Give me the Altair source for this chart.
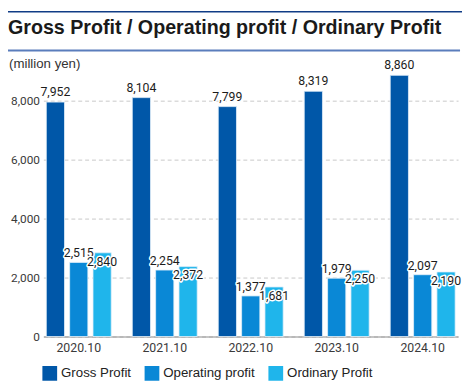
import altair as alt
import pandas as pd

years = ["2020.10", "2021.10", "2022.10", "2023.10", "2024.10"]
series = ["Gross Profit", "Operating profit", "Ordinary Profit"]
gross = [7952, 8104, 7799, 8319, 8860]
operating = [2515, 2254, 1377, 1979, 2097]
ordinary = [2840, 2372, 1681, 2250, 2190]
colors = ["#0057a8", "#0a88d6", "#1fb5eb"]
y_ticks = [0, 2000, 4000, 6000, 8000]
title_text = "Gross Profit / Operating profit / Ordinary Profit"
unit_text = "(million yen)"

rows = []
for i, y in enumerate(years):
    for s, vals in zip(series, [gross, operating, ordinary]):
        rows.append({"year": y, "series": s, "value": vals[i], "label": f"{vals[i]:,}"})
df = pd.DataFrame(rows)

NARROW = "Roboto, sans-serif"
SANS = "Liberation Sans, Arial, sans-serif"

x_enc = alt.X("year:N", sort=years,
              scale=alt.Scale(paddingInner=0.245, paddingOuter=0.034),
              axis=alt.Axis(title=None, labelAngle=0, labelFont=NARROW, labelFontSize=12.5,
                            labelColor="#3a3a3a", labelPadding=5, ticks=False,
                            domain=True, domainColor="#8c8c8c", domainWidth=1.2, grid=False))
y_scale = alt.Scale(domain=[0, 9000], nice=False)
xoff = alt.XOffset("series:N", sort=series, scale=alt.Scale(paddingInner=0.22, paddingOuter=0))

base = alt.Chart(df)

bars = base.mark_bar(stroke="#e3f0fa", strokeWidth=0.8).encode(
    x=x_enc,
    xOffset=xoff,
    y=alt.Y("value:Q", scale=y_scale,
            axis=alt.Axis(title=None, values=y_ticks, labelFont=NARROW, labelFontSize=12,
                          labelColor="#3a3a3a", labelPadding=4, ticks=False, domain=False,
                          grid=True, gridColor="#c8c8c8", gridDash=[4, 3], gridWidth=1,
                          format=",d")),
    color=alt.Color("series:N", sort=series,
                    scale=alt.Scale(domain=series, range=colors),
                    legend=alt.Legend(title=None, orient="none", direction="horizontal",
                                      legendX=-1, legendY=300, symbolType="square",
                                      symbolSize=225, symbolStrokeWidth=0,
                                      labelFont=SANS, labelFontSize=13.5, labelColor="#222222",
                                      labelOffset=4, columnPadding=13)),
)

def labels(sub, dy):
    d = base.transform_filter(alt.datum.series == sub)
    common = dict(x=alt.X("year:N", sort=years), xOffset=xoff,
                  y=alt.Y("value:Q", scale=y_scale), text="label:N")
    halo = d.mark_text(font=NARROW, fontSize=12.5, dy=dy, baseline="alphabetic",
                       color="white", stroke="white", strokeWidth=3,
                       strokeJoin="round").encode(**common)
    txt = d.mark_text(font=NARROW, fontSize=12.5, dy=dy, baseline="alphabetic",
                      color="#1c1c1c").encode(**common)
    return [halo, txt]

lbl_layers = labels("Gross Profit", -6) + labels("Operating profit", -5) + labels("Ordinary Profit", 13)

deco = pd.DataFrame({"t": [title_text]})
title = alt.Chart(deco).mark_text(font=SANS, fontSize=20, fontWeight="bold", color="#1a1a1a",
                                  align="left", baseline="alphabetic").encode(
    x=alt.value(-36), y=alt.value(-38), text="t:N")
unit = alt.Chart(pd.DataFrame({"t": [unit_text]})).mark_text(
    font=SANS, fontSize=13.5, color="#333333", align="left", baseline="alphabetic").encode(
    x=alt.value(-35), y=alt.value(-3), text="t:N")
top_line = alt.Chart(deco).mark_rule(color="#103c86", strokeWidth=1.5).encode(
    x=alt.value(-36), x2=alt.value(426), y=alt.value(-60.5))
sub_line = alt.Chart(deco).mark_rule(color="#5a7dbc", strokeWidth=2).encode(
    x=alt.value(-36), x2=alt.value(424), y=alt.value(-21))

chart = alt.layer(bars, *lbl_layers, title, unit, top_line, sub_line).properties(
    width=422, height=270,
    autosize=alt.AutoSizeParams(type="none"),
    padding={"left": 36, "top": 61, "right": 4, "bottom": 45},
).configure_view(stroke=None)

chart.save("out.html", embed_options={"renderer": "svg", "actions": False})
